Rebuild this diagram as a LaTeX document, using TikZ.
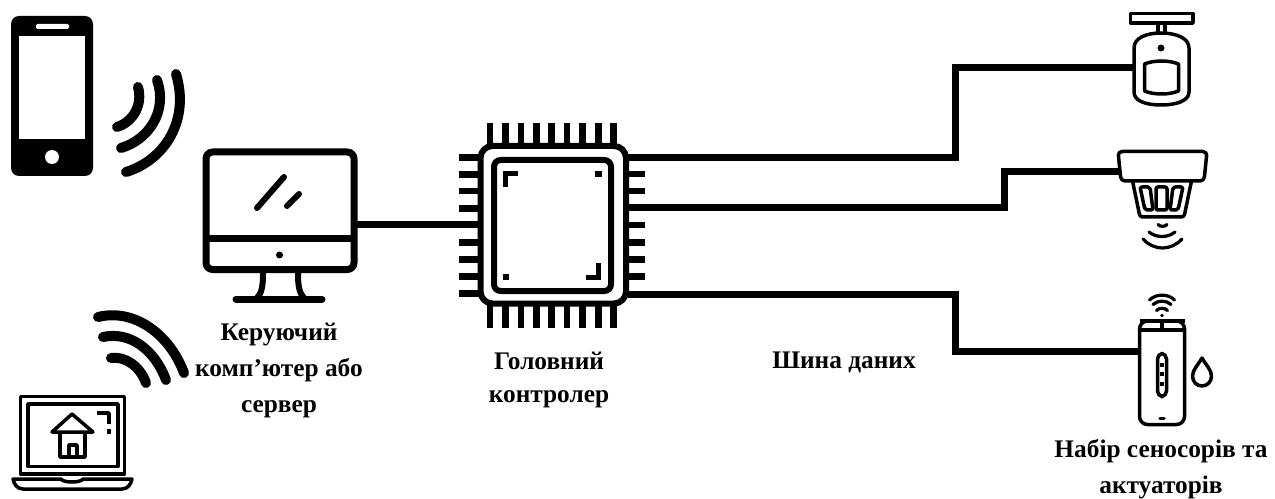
\documentclass[tikz,border=0pt]{standalone}
\usepackage{fontspec}
\setmainfont{Liberation Serif}
\tikzset{every picture/.style={line width=0.75pt}}
\tikzset{wire/.style={line width=7pt*0.75,line join=miter},
  pin/.style={line width=6.5pt*0.75},
  thick icon/.style={line width=7pt*0.75,line join=round},
  thin icon/.style={line width=3.5pt*0.75,line join=round},
  wave/.style={line width=10pt*0.75,line cap=round},
  small wave/.style={line width=3.2pt*0.75,line cap=round},
  caption/.style={inner sep=0.75pt,align=center,font=\fontsize{19}{27}\bfseries\selectfont}}

\begin{document}
\begin{tikzpicture}[x=0.75pt,y=0.75pt,yscale=-1,xscale=1]
    \useasboundingbox (0,0) rectangle (1275,499);

    %Phone
    \draw [fill=black,draw=none,rounded corners=6] (11,16) rectangle (93,176);
    \draw [fill=white,draw=none] (19,36) rectangle (85,139);
    \draw [fill=white,draw=none,rounded corners=1] (36,24) rectangle (69,29);
    \draw [fill=white,draw=none] (52,157) circle [x radius=7, y radius=7];
    %Phone waves
    \draw [wave] (138,87) .. controls (143,105) and (133,122) .. (117,127);
    \draw [wave] (157,80) .. controls (168,112) and (148,140) .. (121,148);
    \draw [wave] (176,74) .. controls (190,120) and (165,160) .. (126,172);

    %Laptop waves
    \draw [wave] (98,317) .. controls (135,308) and (170,335) .. (184,373);
    \draw [wave] (103,337) .. controls (130,331) and (155,350) .. (166,380);
    \draw [wave] (111,358) .. controls (125,356) and (140,366) .. (146,383);
    %Laptop
    \draw [thin icon] (20.5,396.5) rectangle (124.5,474);
    \draw [thin icon] (28,404) rectangle (118,466.5);
    \draw [thin icon] (13,479) -- (61,479) .. controls (63,483) and (81,483) .. (83,479) -- (132,479) .. controls (131,484) and (128,489) .. (122,489) -- (23,489) .. controls (17,489) and (14,484) .. (13,479) -- cycle;
    %House
    \draw [thin icon] (52,432) -- (72,414) -- (93,432) -- cycle;
    \draw [thin icon] (60,432) -- (60,457) -- (85,457) -- (85,432);
    \draw [thin icon] (69,457) -- (69,445) -- (77,445) -- (77,457);
    \draw [thin icon] (97,413) -- (109,413) -- (109,424);
    \draw [thin icon] (109,429) -- (109,434);

    %Monitor
    \draw [thick icon,rounded corners=5] (206,152) rectangle (354,269.5);
    \draw [thick icon] (206,238.5) -- (354,238.5);
    \draw [line width=6pt*0.75,line cap=round] (257,208) -- (284,177);
    \draw [line width=6pt*0.75,line cap=round] (287,206) -- (299,194);
    \draw [fill=black,draw=none] (279.5,255) circle [x radius=3.5, y radius=3.5];
    \draw [line width=6pt*0.75] (263,273) .. controls (263,285) and (262,293) .. (257,298);
    \draw [line width=6pt*0.75] (298,273) .. controls (298,285) and (299,293) .. (304,298);
    \draw [thick icon,line cap=round] (236,299) -- (322,299);
    \coordinate (monitorPort) at (354,225);

    %Chip body
    \draw [line width=6pt*0.75,rounded corners=9] (480.5,146) rectangle (626,303.5);
    \draw [line width=6pt*0.75,rounded corners=5] (494,160) rectangle (611,291);
    %Chip pins
    \draw [pin] (490,123) -- (490,146) (505.5,123) -- (505.5,146) (521,123) -- (521,146) (536.3,123) -- (536.3,146) (551.7,123) -- (551.7,146) (567,123) -- (567,146) (582.7,123) -- (582.7,146) (598.3,123) -- (598.3,146) (613.7,123) -- (613.7,146);
    \draw [pin] (490,303.5) -- (490,328) (505.5,303.5) -- (505.5,328) (521,303.5) -- (521,328) (536.3,303.5) -- (536.3,328) (551.7,303.5) -- (551.7,328) (567,303.5) -- (567,328) (582.7,303.5) -- (582.7,328) (598.3,303.5) -- (598.3,328) (613.7,303.5) -- (613.7,328);
    \draw [pin] (459,157.5) -- (480.5,157.5) (459,174.5) -- (480.5,174.5) (459,191) -- (480.5,191) (459,208.3) -- (480.5,208.3) (459,242.3) -- (480.5,242.3) (459,259.7) -- (480.5,259.7) (459,276.7) -- (480.5,276.7) (459,293.7) -- (480.5,293.7);
    \draw [pin] (626,174) -- (645,174) (626,191) -- (645,191) (626,225) -- (645,225) (626,242.3) -- (645,242.3) (626,259.7) -- (645,259.7) (626,276.7) -- (645,276.7);
    %Chip marks
    \draw [line width=5.5pt*0.75] (505.7,187) -- (505.7,173.3) -- (518,173.3);
    \draw [line width=5.5pt*0.75] (598.3,263) -- (598.3,277.3) -- (585.7,277.3);
    \draw [fill=black,draw=none] (595,171) rectangle (601.5,177.5);
    \draw [fill=black,draw=none] (502.5,273.5) rectangle (509,280);
    \coordinate (chipW) at (480.5,225);
    \coordinate (chipNE) at (626,157.5);
    \coordinate (chipE) at (626,208);
    \coordinate (chipSE) at (626,294);

    %Motion sensor
    \draw [thin icon] (1130.5,13.5) rectangle (1193,23);
    \draw [thin icon] (1158,23) -- (1158,33);
    \draw [thin icon] (1165,23) -- (1165,33);
    \draw [thin icon] (1134,48) .. controls (1134,38) and (1146,33) .. (1161,33) .. controls (1176,33) and (1189,38) .. (1189,48) -- (1189,92) .. controls (1189,101) and (1176,105) .. (1161,105) .. controls (1146,105) and (1134,101) .. (1134,92) -- cycle;
    \draw [fill=black,draw=none] (1161,48) circle [x radius=3.5, y radius=3.5];
    \draw [thin icon] (1144.5,64) .. controls (1154,60) and (1169,60) .. (1178.5,64) -- (1178.5,91) .. controls (1169,95) and (1154,95) .. (1144.5,91) -- cycle;
    \coordinate (motionPort) at (1134,68);

    %Smoke detector
    \draw [thin icon,rounded corners=3] (1118,151.5) -- (1207,151.5) -- (1204,181) -- (1121,181) -- cycle;
    \draw [thin icon,rounded corners=2] (1132.5,181) -- (1140,217) -- (1184,217) -- (1191.5,181);
    \draw [thin icon,rounded corners=1.5] (1140,187) -- (1150,187) -- (1153,210) -- (1145,210) -- cycle;
    \draw [thin icon,rounded corners=1.5] (1156,187) -- (1167,187) -- (1167,210) -- (1156,210) -- cycle;
    \draw [thin icon,rounded corners=1.5] (1173,187) -- (1183,187) -- (1178,210) -- (1170,210) -- cycle;
    \draw [small wave] (1158,224.5) .. controls (1160,227) and (1165,227) .. (1167,224.5);
    \draw [small wave] (1149,232) .. controls (1156,238) and (1168,238) .. (1175,232);
    \draw [small wave] (1143,239) .. controls (1154,251) and (1171,251) .. (1182,239);
    \coordinate (smokePort) at (1120,172);

    %Humidity sensor
    \draw [thin icon,rounded corners=6] (1139.5,321) -- (1139.5,424.5) -- (1184.5,424.5) -- (1184.5,321) -- cycle;
    \draw [thin icon] (1139.5,321) -- (1184.5,321);
    \draw [thin icon] (1139.5,330) -- (1184.5,330);
    \draw [thin icon] (1162,321) -- (1162,330);
    \draw [thin icon,rounded corners=4] (1157.5,353.5) rectangle (1166.5,396.5);
    \draw [thin icon] (1160,365) -- (1164,365) (1160,374) -- (1164,374) (1160,384) -- (1164,384);
    \draw [thin icon,line cap=round] (1160,418.5) -- (1164,418.5);
    \draw [fill=black,draw=none] (1162,315.5) circle [x radius=1.8, y radius=1.8];
    \draw [small wave] (1156.5,310.5) .. controls (1159,307.5) and (1165,307.5) .. (1167.5,310.5);
    \draw [small wave] (1153,304.5) .. controls (1158,300) and (1166,300) .. (1171,304.5);
    \draw [small wave] (1149.5,300) .. controls (1156,293.5) and (1168,293.5) .. (1174.5,300);
    \draw [thin icon] (1202,358) .. controls (1206,365) and (1211.5,370) .. (1211.5,376) .. controls (1211.5,382) and (1207,386) .. (1202,386) .. controls (1197,386) and (1192.5,382) .. (1192.5,376) .. controls (1192.5,370) and (1198,365) .. (1202,358) -- cycle;
    \coordinate (humidityPort) at (1139.5,351);

    %Bends of the data bus
    \coordinate (busA) at (955,157.5);
    \coordinate (busB) at (955,68);
    \coordinate (busC) at (1004,208);
    \coordinate (busD) at (1004,172);
    \coordinate (busE) at (955,294);
    \coordinate (busF) at (955,351);
    %Straight Lines
    \draw [wire] (monitorPort) -- (chipW);
    \draw [wire] (chipNE) -- (busA) -- (busB) -- (motionPort);
    \draw [wire] (chipE) -- (busC) -- (busD) -- (smokePort);
    \draw [wire] (chipSE) -- (busE) -- (busF) -- (humidityPort);

    % Text Node
    \node (monitorLabel) [caption] at (279,370) {Керуючий\\комп’ютер або\\сервер};
    % Text Node
    \node (chipLabel) [caption,font=\fontsize{19}{25}\bfseries\selectfont] at (549,380) {Головний\\контролер};
    % Text Node
    \node (busLabel) [caption] at (844,362) {Шина даних};
    % Text Node
    \node (sensorLabel) [caption] at (1161,469) {Набір сеносорів та\\актуаторів};

\end{tikzpicture}
\end{document}
